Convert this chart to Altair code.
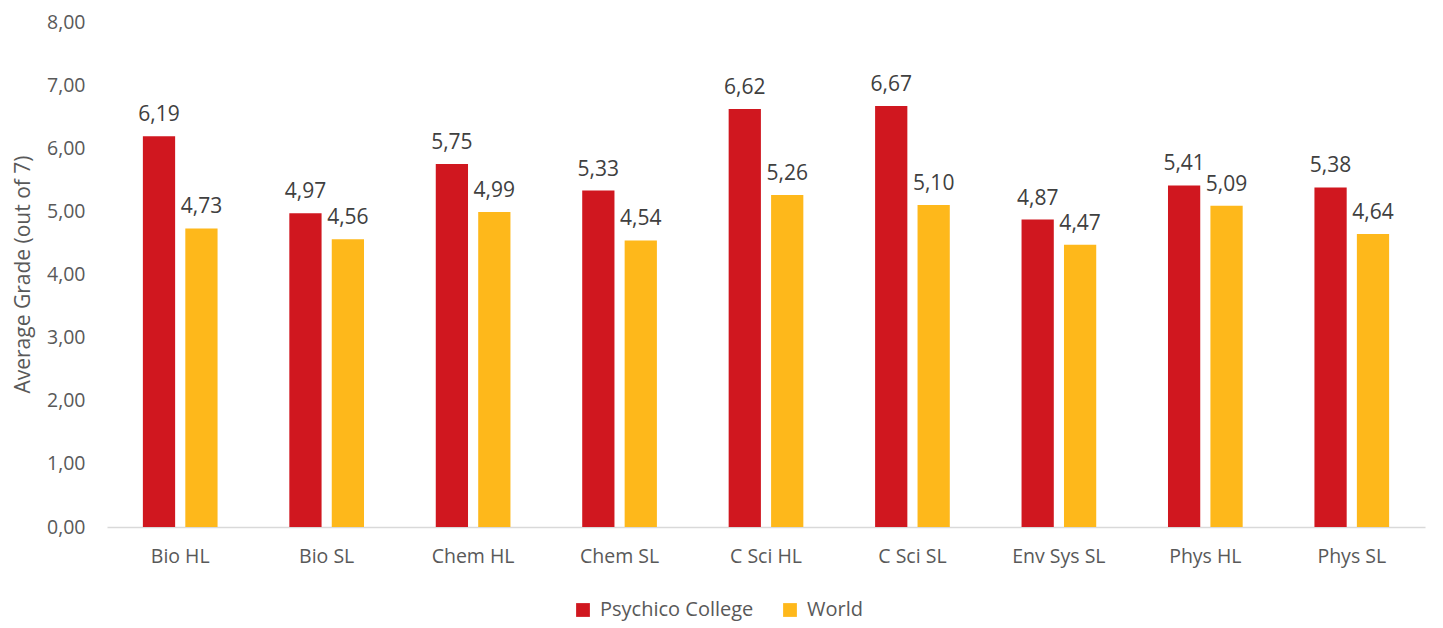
import altair as alt
import pandas as pd

categories = ["Bio HL", "Bio SL", "Chem HL", "Chem SL", "C Sci HL", "C Sci SL", "Env Sys SL", "Phys HL", "Phys SL"]
psychico = [6.19, 4.97, 5.75, 5.33, 6.62, 6.67, 4.87, 5.41, 5.38]
world = [4.73, 4.56, 4.99, 4.54, 5.26, 5.10, 4.47, 5.09, 4.64]
series = ["Psychico College", "World"]
colors = ["#D0171F", "#FEB81B"]

rows = []
for c, p, w in zip(categories, psychico, world):
    rows.append({"subject": c, "series": series[0], "value": p})
    rows.append({"subject": c, "series": series[1], "value": w})
df = pd.DataFrame(rows)

FONT = "Open Sans"

x = alt.X("subject:N", sort=categories, title=None,
          scale=alt.Scale(paddingInner=0.49, paddingOuter=0.245),
          axis=alt.Axis(labelAngle=0, labelFontSize=19.5, labelColor="#595959", labelFont=FONT,
                        ticks=False, labelPadding=20, domainColor="#D9D9D9", domainWidth=1.5))
xoff = alt.XOffset("series:N", sort=series, scale=alt.Scale(paddingInner=0.24, paddingOuter=0))
y = alt.Y("value:Q", title="Average Grade (out of 7)",
          scale=alt.Scale(domain=[0, 8], nice=False),
          axis=alt.Axis(values=[0, 1, 2, 3, 4, 5, 6, 7, 8], labelExpr="replace(format(datum.value, '.2f'), '.', ',')",
                        labelFontSize=19.5, labelColor="#595959", labelFont=FONT, ticks=False, domain=False,
                        grid=False, labelPadding=22, titleFontSize=21, titleColor="#595959", titleFont=FONT,
                        titleFontWeight="normal", titleX=-84, titleY=252, titleBaseline="middle", titleAlign="center", titleAngle=-90))
color = alt.Color("series:N", sort=series, scale=alt.Scale(domain=series, range=colors),
                  legend=alt.Legend(title=None, orient="none", direction="horizontal", legendX=466, legendY=578,
                                    symbolType="square", symbolSize=190, symbolStrokeWidth=0, labelFontSize=20,
                                    labelColor="#595959", labelFont=FONT, columnPadding=26, labelOffset=7))

base = alt.Chart(df)
bars = base.mark_bar().encode(x=x, xOffset=xoff, y=y, color=color)
labels = base.mark_text(baseline="bottom", dy=-11, fontSize=21, color="#404040", font=FONT).encode(
    x=alt.X("subject:N", sort=categories), xOffset=alt.XOffset("series:N", sort=series), y="value:Q",
    text=alt.Text("label:N")
).transform_calculate(label="replace(format(datum.value, '.2f'), '.', ',')")

chart = alt.layer(bars, labels).properties(
    width=1318, height=505,
    background="white",
    autosize=alt.AutoSizeParams(type="none"),
    padding={"left": 99, "top": 14, "right": 10, "bottom": 101},
).configure_view(strokeWidth=0, stroke="transparent")

chart.save("out.html", embed_options={"renderer": "svg", "actions": False})
